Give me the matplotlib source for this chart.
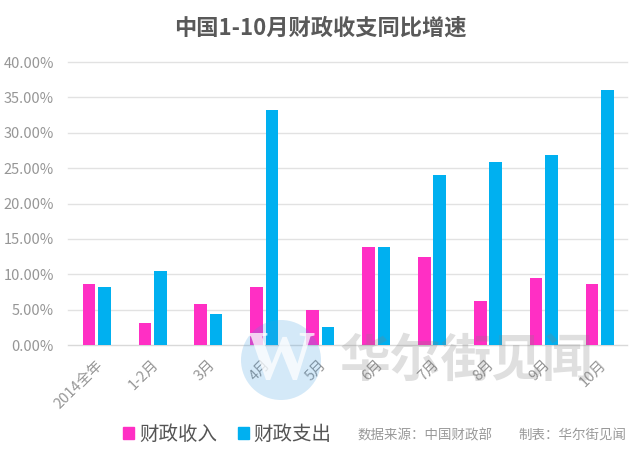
import matplotlib
matplotlib.use('Agg')
import matplotlib.pyplot as plt
import numpy as np
from matplotlib.patches import Ellipse

plt.rcParams['font.family'] = ['Noto Sans CJK SC', 'DejaVu Sans']

categories = ['2014全年', '1-2月', '3月', '4月', '5月', '6月', '7月', '8月', '9月', '10月']
income = [8.6, 3.1, 5.8, 8.2, 4.9, 13.8, 12.4, 6.2, 9.4, 8.6]
spending = [8.2, 10.5, 4.4, 33.2, 2.6, 13.8, 24.0, 25.8, 26.8, 36.0]
yticks = [0, 5, 10, 15, 20, 25, 30, 35, 40]

W, H = 640, 461
fig = plt.figure(figsize=(W / 100, H / 100), dpi=100)
ax = fig.add_axes([68 / W, 1 - 345 / H, 559 / W, 283 / H])

x = np.arange(len(categories))
bar_w = 0.225
ax.bar(x - 0.125, income, bar_w, color='#FF2FC4', zorder=3)
ax.bar(x + 0.15, spending, bar_w, color='#00B0F0', zorder=3)

ax.set_xlim(-0.5, 9.5)
ax.set_ylim(0, 40)
ax.set_yticks(yticks)
ax.set_yticklabels([f'{v:.2f}%' for v in yticks], fontsize=10.5, color='#969696')
ax.set_xticks(x)
ax.set_xticklabels(categories, fontsize=10.5, color='#969696', rotation=45,
                   ha='right', rotation_mode='anchor')
ax.tick_params(length=0)
ax.tick_params(axis='y', pad=10)
ax.tick_params(axis='x', pad=9)
ax.grid(axis='y', color='#e2e2e2', linewidth=1.0, zorder=0, clip_on=False)
for s in ['top', 'right', 'left']:
    ax.spines[s].set_visible(False)
ax.spines['bottom'].set_color('#d9d9d9')

fig.text(320 / W, 1 - 28 / H, '中国1-10月财政收支同比增速', fontsize=16, fontweight='bold',
         color='#595959', ha='center', va='center')

# legend and notes
fig.patches.append(plt.Rectangle((123 / W, 1 - 439 / H), 11 / W, 12 / H, color='#FF2FC4',
                                 transform=fig.transFigure))
fig.patches.append(plt.Rectangle((238 / W, 1 - 439 / H), 11 / W, 12 / H, color='#00B0F0',
                                 transform=fig.transFigure))
fig.text(139 / W, 1 - 434 / H, '财政收入', fontsize=14, color='#555555', va='center')
fig.text(253 / W, 1 - 434 / H, '财政支出', fontsize=14, color='#555555', va='center')
fig.text(357 / W, 1 - 435 / H, '数据来源：中国财政部', fontsize=9.7, color='#999999', va='center')
fig.text(518 / W, 1 - 435 / H, '制表：华尔街见闻', fontsize=9.7, color='#999999', va='center')

# watermark
fig.patches.append(Ellipse((281 / W, 1 - 360 / H), 80 / W, 80 / H, color='#3d9be0', alpha=0.22,
                           lw=0, transform=fig.transFigure, zorder=5))
fig.text(281 / W, 1 - 362 / H, 'W', fontsize=50, family='Liberation Serif', fontweight='bold',
         color='white', alpha=0.75, ha='center', va='center', zorder=6)
fig.text(340 / W, 1 - 361 / H, '华尔街见闻', fontsize=36.5,
         fontweight='bold', color='#808080', alpha=0.25, va='center', zorder=6)

fig.savefig('out.png', dpi=100)
